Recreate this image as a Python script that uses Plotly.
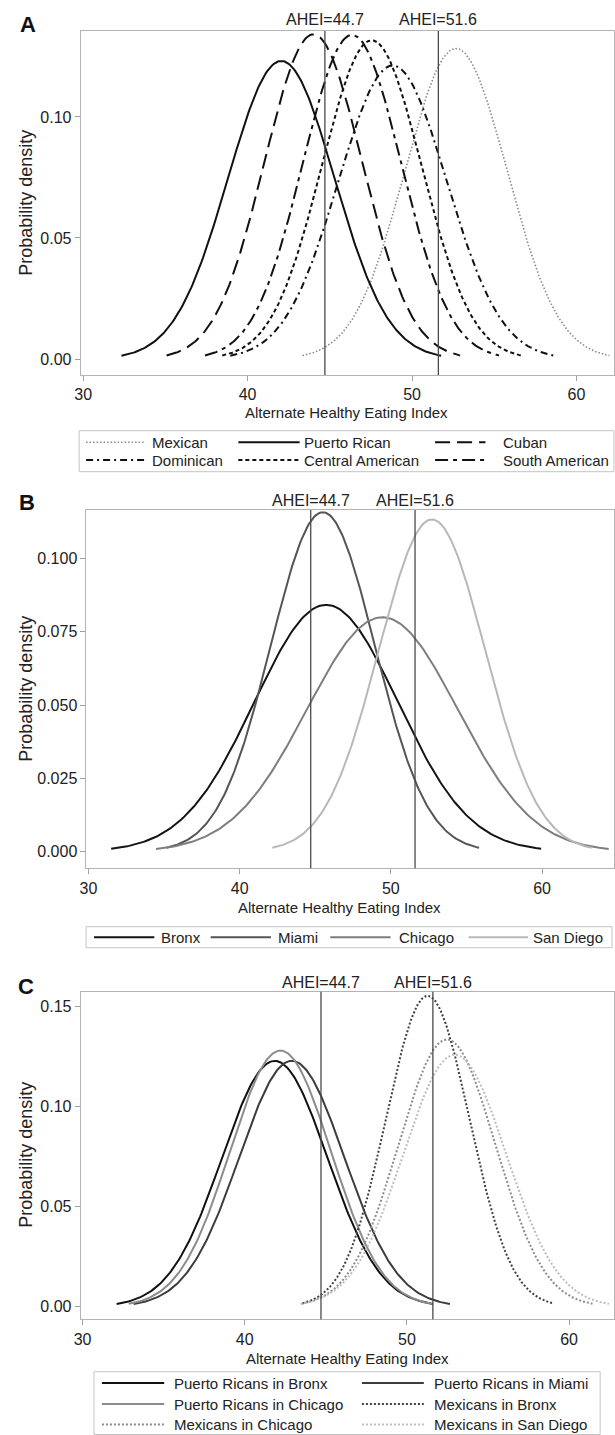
import numpy as np
import plotly.graph_objects as go

W, H = 615, 1435

# ---------------- data ----------------
# Panel A: ethnic background (mean, SD of AHEI)
a_groups = ["Mexican", "Puerto Rican", "Cuban", "Dominican", "Central American", "South American"]
a_means = [52.67, 42.05, 44.0, 48.82, 47.55, 46.35]
a_sds = [3.11, 3.24, 2.975, 3.29, 3.03, 2.98]

# Panel B: field center
b_sites = ["Bronx", "Miami", "Chicago", "San Diego"]
b_means = [45.72, 45.5, 49.44, 52.72]
b_sds = [4.74, 3.445, 4.99, 3.52]

# Panel C: ethnic background within field center
c_groups = ["Puerto Ricans in Bronx", "Puerto Ricans in Miami", "Puerto Ricans in Chicago",
            "Mexicans in Bronx", "Mexicans in Chicago", "Mexicans in San Diego"]
c_means = [41.85, 42.9, 42.2, 51.28, 52.47, 52.95]
c_sds = [3.25, 3.25, 3.12, 2.57, 2.99, 3.17]

ahei_cuts = [44.7, 51.6]
x_ticks = [30, 40, 50, 60]
a_yticks = [0.00, 0.05, 0.10]
b_yticks = [0.000, 0.025, 0.050, 0.075, 0.100]
c_yticks = [0.00, 0.05, 0.10, 0.15]

# ---------------- styles ----------------
a_styles = {
    "Mexican": dict(color="#8a8a8a", dash="1.5px,2px", width=1.6),
    "Puerto Rican": dict(color="#111111", dash="solid", width=2),
    "Cuban": dict(color="#111111", dash="15px,7px", width=2),
    "Dominican": dict(color="#111111", dash="7px,4px,2px,4px", width=2),
    "Central American": dict(color="#111111", dash="4px,3px", width=2),
    "South American": dict(color="#111111", dash="13px,5px,4px,5px", width=2),
}
b_styles = {
    "Bronx": dict(color="#141414", dash="solid", width=2),
    "Miami": dict(color="#555555", dash="solid", width=2),
    "Chicago": dict(color="#7e7e7e", dash="solid", width=2),
    "San Diego": dict(color="#b8b8b8", dash="solid", width=2),
}
c_styles = {
    "Puerto Ricans in Bronx": dict(color="#111111", dash="solid", width=2),
    "Puerto Ricans in Miami": dict(color="#3c3c3c", dash="solid", width=2),
    "Puerto Ricans in Chicago": dict(color="#8c8c8c", dash="solid", width=2),
    "Mexicans in Bronx": dict(color="#404040", dash="2px,2px", width=2),
    "Mexicans in Chicago": dict(color="#8c8c8c", dash="2px,2px", width=2),
    "Mexicans in San Diego": dict(color="#bdbdbd", dash="2px,2px", width=2),
}

FONT = "Liberation Sans, Arial, sans-serif"


def pdf_curve(mu, sd, n=240):
    xs = np.linspace(mu - 3 * sd, mu + 3 * sd, n)
    ys = np.exp(-0.5 * ((xs - mu) / sd) ** 2) / (sd * np.sqrt(2 * np.pi))
    return xs, ys


def px(x):
    return x / W


def py(y):
    return 1 - y / H


fig = go.Figure()

panels = [
    ("x", "y", a_groups, a_means, a_sds, a_styles),
    ("x2", "y2", b_sites, b_means, b_sds, b_styles),
    ("x3", "y3", c_groups, c_means, c_sds, c_styles),
]
for xa, ya, groups, means, sds, styles in panels:
    for g, m, s in zip(groups, means, sds):
        xs, ys = pdf_curve(m, s)
        st = styles[g]
        fig.add_trace(go.Scatter(x=xs, y=ys, mode="lines", name=g, xaxis=xa, yaxis=ya,
                                 line=dict(color=st["color"], dash=st["dash"], width=st["width"]),
                                 showlegend=False, hoverinfo="skip"))

# axes layout (pixel boxes)
boxes = {
    "A": dict(x0=74.5, x1=614, y0=31, y1=375, xr=[29.85, 62.28], yr=[-0.0066, 0.1355],
              yt=a_yticks, yf=".2f"),
    "B": dict(x0=80.4, x1=614, y0=510, y1=868.3, xr=[29.87, 64.76], yr=[-0.00573, 0.11655],
              yt=b_yticks, yf=".3f"),
    "C": dict(x0=74.5, x1=614, y0=991.7, y1=1319.3, xr=[29.88, 62.77], yr=[-0.0063, 0.1573],
              yt=c_yticks, yf=".2f"),
}
axis_common = dict(showline=True, mirror=True, linecolor="#b4b4b4", linewidth=1,
                   showgrid=False, zeroline=False, ticks="outside", ticklen=5,
                   tickcolor="#a0a0a0", tickwidth=1,
                   tickfont=dict(family=FONT, size=16, color="#222222"))
layout_axes = {}
for i, key in enumerate(["A", "B", "C"]):
    b = boxes[key]
    sx = "xaxis" if i == 0 else f"xaxis{i+1}"
    sy = "yaxis" if i == 0 else f"yaxis{i+1}"
    yname = "y" if i == 0 else f"y{i+1}"
    xname = "x" if i == 0 else f"x{i+1}"
    layout_axes[sx] = dict(domain=[px(b["x0"]), px(b["x1"])], range=b["xr"], anchor=yname,
                           tickvals=x_ticks, **axis_common)
    layout_axes[sy] = dict(domain=[py(b["y1"]), py(b["y0"])], range=b["yr"], anchor=xname,
                           tickvals=b["yt"], tickformat=b["yf"], **axis_common)

fig.update_layout(width=W, height=H, margin=dict(l=0, r=0, t=0, b=0),
                  paper_bgcolor="white", plot_bgcolor="white", showlegend=False,
                  font=dict(family=FONT, color="#222222"), **layout_axes)

shapes = []
annotations = []

# reference lines and labels
ahei_text_y = {"A": 19.5, "B": 500.5, "C": 982.5}
for i, key in enumerate(["A", "B", "C"]):
    xname = "x" if i == 0 else f"x{i+1}"
    yname = "y" if i == 0 else f"y{i+1}"
    for c in ahei_cuts:
        shapes.append(dict(type="line", xref=xname, yref=f"{yname} domain", x0=c, x1=c, y0=0, y1=1,
                           line=dict(color="#4a4a4a", width=1.3)))
        annotations.append(dict(text=f"AHEI={c}", xref=xname, yref="paper", x=c, y=py(ahei_text_y[key]),
                                xanchor="center", yanchor="middle", showarrow=False,
                                font=dict(family=FONT, size=16, color="#222222")))

# panel letters
for key, (lx, ly) in {"A": (21, 25), "B": (20.5, 503), "C": (19.5, 986)}.items():
    annotations.append(dict(text=f"<b>{key}</b>", xref="paper", yref="paper", x=px(lx), y=py(ly),
                            xanchor="center", yanchor="middle", showarrow=False,
                            font=dict(family=FONT, size=22, color="#111111")))

# axis titles
for key, yc in {"A": 203, "B": 689, "C": 1155}.items():
    annotations.append(dict(text="Probability density", xref="paper", yref="paper", x=px(19), y=py(yc),
                            textangle=-90, xanchor="center", yanchor="middle", showarrow=False,
                            font=dict(family=FONT, size=18, color="#222222")))
for key, (xc, yc) in {"A": (343, 412.3), "B": (336, 907.3), "C": (344, 1358.3)}.items():
    annotations.append(dict(text="Alternate Healthy Eating Index", xref="paper", yref="paper",
                            x=px(xc), y=py(yc), xanchor="center", yanchor="middle", showarrow=False,
                            font=dict(family=FONT, size=15, color="#222222")))


# manual legends
def legend_box(x0, x1, y0, y1):
    shapes.append(dict(type="rect", xref="paper", yref="paper", x0=px(x0), x1=px(x1), y0=py(y1), y1=py(y0),
                       line=dict(color="#c4c4c4", width=1), fillcolor="rgba(0,0,0,0)"))


def legend_item(lx0, lx1, y, tx, name, st):
    shapes.append(dict(type="line", xref="paper", yref="paper", x0=px(lx0), x1=px(lx1), y0=py(y), y1=py(y),
                       line=dict(color=st["color"], dash=st["dash"], width=st["width"])))
    annotations.append(dict(text=name, xref="paper", yref="paper", x=px(tx), y=py(y),
                            xanchor="left", yanchor="middle", showarrow=False,
                            font=dict(family=FONT, size=15, color="#222222")))


# Legend A (3 columns x 2 rows)
legend_box(73, 614, 430.7, 471.7)
a_cols = [(80, 139, 145), (234, 296, 298), (433, 484, 500)]
a_rows = [442.3, 460.0]
for idx, g in enumerate(a_groups):
    r, c = divmod(idx, 3)
    lx0, lx1, tx = a_cols[c]
    legend_item(lx0, lx1, a_rows[r], tx, g, a_styles[g])

# Legend B (1 row)
legend_box(80, 612, 926.7, 947.7)
b_cols = [(88, 149, 154), (206, 267, 272.5), (327, 388, 394), (467, 527, 530)]
for (lx0, lx1, tx), g in zip(b_cols, b_sites):
    legend_item(lx0, lx1, 937.3, tx, g, b_styles[g])

# Legend C (2 columns x 3 rows)
legend_box(88, 600, 1371.7, 1434.5)
c_cols = [(96, 159, 166.7), (359, 421.6, 429.4)]
c_rows = [1383.0, 1404.0, 1424.5]
for idx, g in enumerate(c_groups):
    r, c = divmod(idx, 2)
    lx0, lx1, tx = c_cols[c]
    legend_item(lx0, lx1, c_rows[r], tx, g, c_styles[g])

fig.update_layout(shapes=shapes, annotations=annotations)
fig.write_html("out.html",
               config={"displayModeBar": False},
               post_script="document.body.style.margin='0';document.body.style.padding='0';"
                           "document.documentElement.style.overflow='hidden';")
